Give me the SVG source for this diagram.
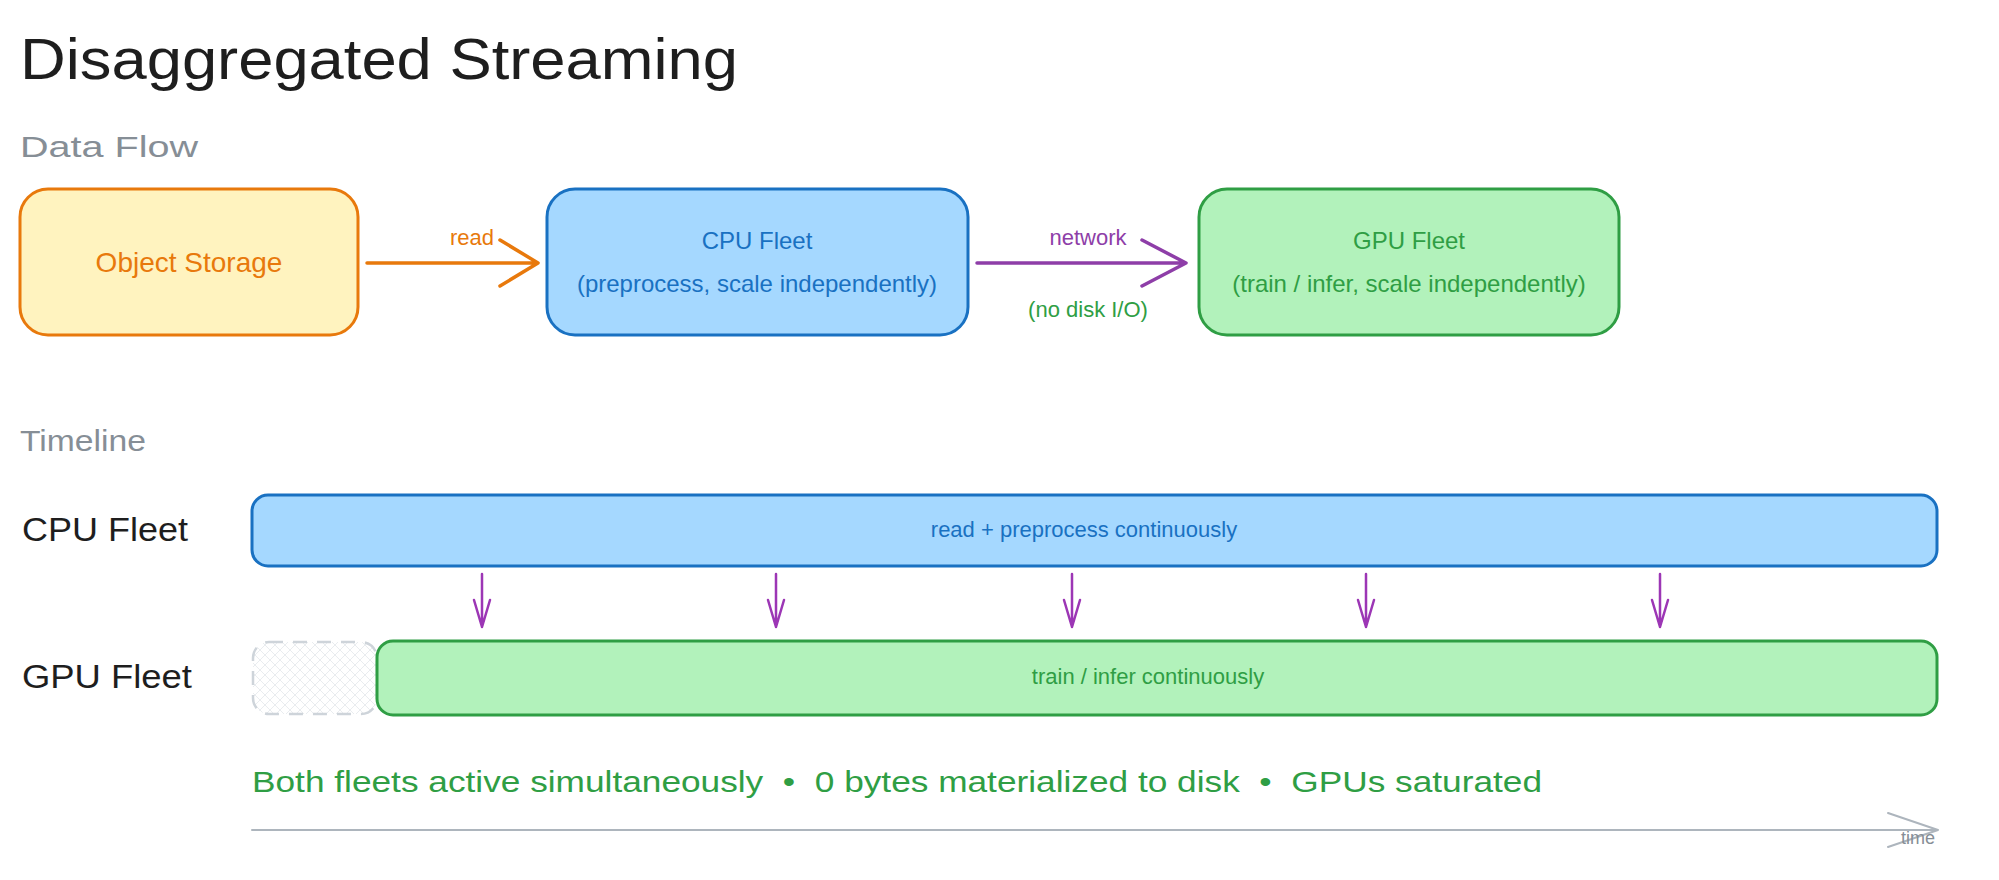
<svg xmlns="http://www.w3.org/2000/svg" width="1999" height="880" viewBox="0 0 1999 880">
<defs>
<style>
text{font-family:"Liberation Sans",Arial,sans-serif}
.c{text-anchor:middle;dominant-baseline:central}
.sec{fill:#868e96;font-size:30px}
.lbl{fill:#1e1e1e;font-size:34px}
.box{stroke-width:3}
</style>
<pattern id="hatch" width="10" height="10" patternUnits="userSpaceOnUse">
<path d="M0 0L10 10M10 0L0 10" stroke="#e9ecef" stroke-width="1"/>
</pattern>
</defs>
<rect width="1999" height="880" fill="#fff"/>
<text x="20" y="79" font-size="58" fill="#1e1e1e" textLength="718" lengthAdjust="spacingAndGlyphs">Disaggregated Streaming</text>
<text x="20" y="157" class="sec" textLength="178" lengthAdjust="spacingAndGlyphs">Data Flow</text>
<text x="20" y="451" class="sec" textLength="126" lengthAdjust="spacingAndGlyphs">Timeline</text>

<g id="connectors" fill="none" stroke-linecap="round" stroke-linejoin="round">
<path d="M367 263H538M500 240L538 263L500 286" stroke="#e8790c" stroke-width="3.5"/>
<path d="M977 263H1186M1142 240L1186 263L1142 286" stroke="#8e3ea8" stroke-width="3.5"/>
<g stroke="#9c36b5" stroke-width="2.5">
<path d="M482 574V627M474 600L482 627L490 600"/>
<path d="M776 574V627M768 600L776 627L784 600"/>
<path d="M1072 574V627M1064 600L1072 627L1080 600"/>
<path d="M1366 574V627M1358 600L1366 627L1374 600"/>
<path d="M1660 574V627M1652 600L1660 627L1668 600"/>
</g>
<path d="M252 830H1938M1888 813L1938 830L1888 847" stroke="#adb5bd" stroke-width="2"/>
</g>
<text x="472" y="237" class="c" font-size="22" fill="#e8790c">read</text>
<text x="1088" y="237" class="c" font-size="22" fill="#8e3ea8">network</text>
<text x="1088" y="309" class="c" font-size="22" fill="#2f9e44">(no disk I/O)</text>
<text x="1918" y="838" class="c" font-size="18" fill="#868e96">time</text>

<g id="objstore">
<rect x="20" y="189" width="338" height="146" rx="28" fill="#fff3bf" stroke="#e8790c" class="box"/>
<text x="189" y="262" class="c" font-size="28" fill="#e8790c">Object Storage</text>
</g>
<g id="cpufleet">
<rect x="547" y="189" width="421" height="146" rx="28" fill="#a5d8ff" stroke="#1971c2" class="box"/>
<text x="757" y="240" class="c" font-size="24" fill="#1971c2">CPU Fleet</text>
<text x="757" y="283" class="c" font-size="24" fill="#1971c2">(preprocess, scale independently)</text>
</g>
<g id="gpufleet">
<rect x="1199" y="189" width="420" height="146" rx="28" fill="#b2f2bb" stroke="#2f9e44" class="box"/>
<text x="1409" y="240" class="c" font-size="24" fill="#2f9e44">GPU Fleet</text>
<text x="1409" y="283" class="c" font-size="24" fill="#2f9e44">(train / infer, scale independently)</text>
</g>

<g id="cpu-row">
<text x="22" y="529" class="lbl" dominant-baseline="central" textLength="166" lengthAdjust="spacingAndGlyphs">CPU Fleet</text>
<rect x="252" y="495" width="1685" height="71" rx="16" fill="#a5d8ff" stroke="#1971c2" class="box"/>
<text x="1084" y="529" class="c" font-size="22" fill="#1971c2">read + preprocess continuously</text>
</g>
<g id="gpu-row">
<text x="22" y="676" class="lbl" dominant-baseline="central" textLength="170" lengthAdjust="spacingAndGlyphs">GPU Fleet</text>
<rect x="253" y="642" width="124" height="72" rx="16" fill="url(#hatch)" stroke="#ced4da" stroke-width="2.5" stroke-dasharray="14 10"/>
<rect x="377" y="641" width="1560" height="74" rx="16" fill="#b2f2bb" stroke="#2f9e44" class="box"/>
<text x="1148" y="676" class="c" font-size="22" fill="#2f9e44">train / infer continuously</text>
</g>
<text x="252" y="792" font-size="30" fill="#2f9e44" textLength="1290" lengthAdjust="spacingAndGlyphs" xml:space="preserve">Both fleets active simultaneously  •  0 bytes materialized to disk  •  GPUs saturated</text>
</svg>
